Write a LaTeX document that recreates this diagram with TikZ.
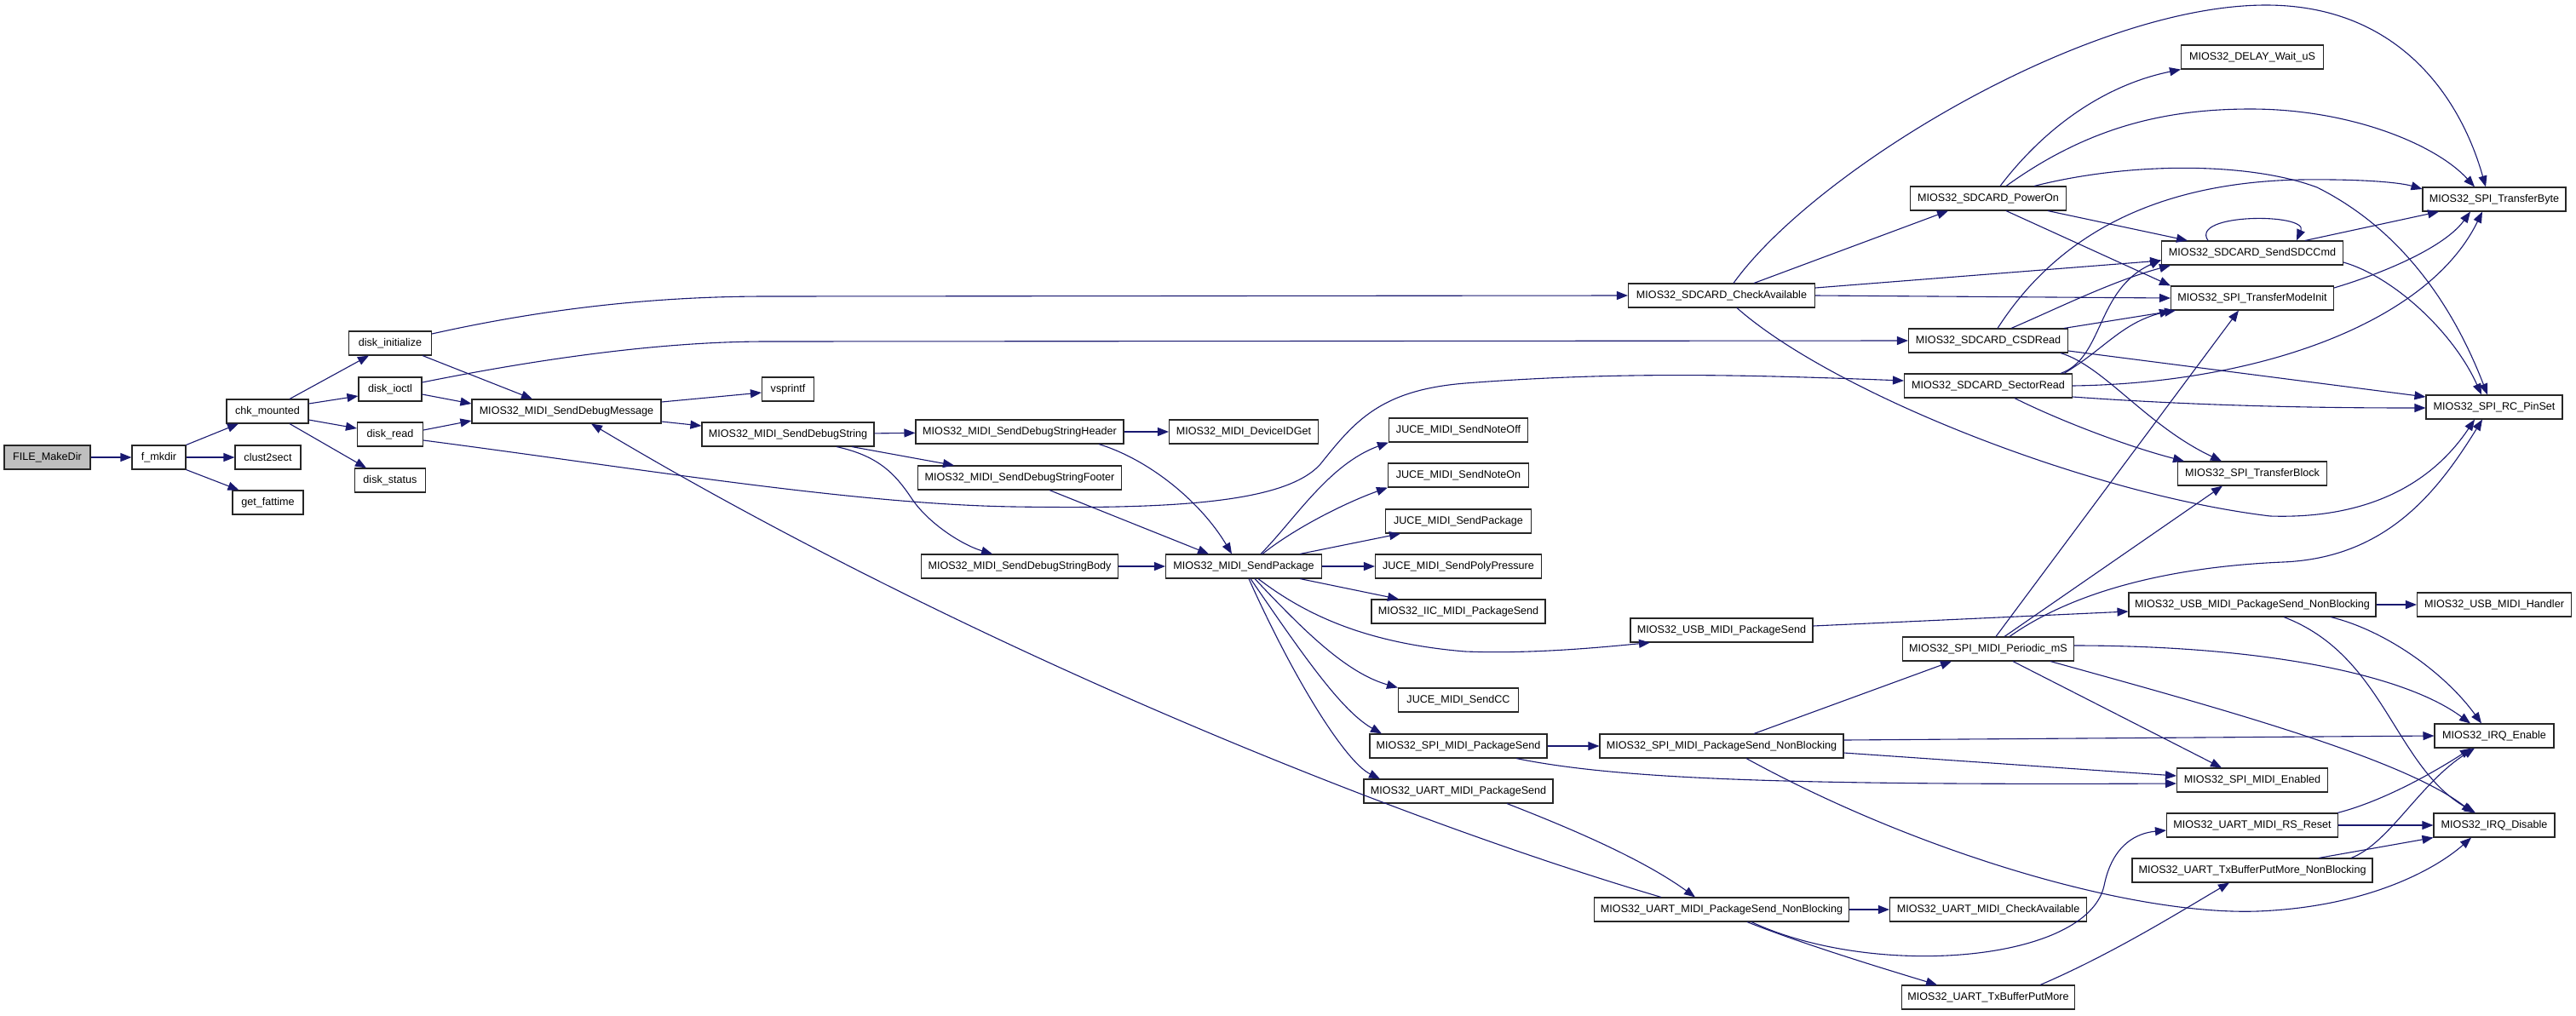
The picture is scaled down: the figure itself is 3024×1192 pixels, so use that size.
\documentclass[tikz,border=0pt]{standalone}
\usepackage{fontspec}
\setmainfont{Liberation Sans}
\usetikzlibrary{arrows.meta}
\definecolor{edgec}{RGB}{25,25,112}
\tikzset{
  box/.style={draw=black!85, line width=1.1pt, minimum height=28pt, inner sep=0pt, font=\fontsize{12.6}{15}\selectfont},
  call/.style={draw=edgec, line width=1.1pt, -{Triangle[length=13pt,width=10pt]}},
}
\begin{document}
\begin{tikzpicture}[x=1pt,y=-1pt]
\useasboundingbox (0,0) rectangle (3024,1192);
% nodes
\node[box,minimum width=101pt,fill=gray!50] (fmd) at (55.5,537) {FILE\_MakeDir};
\node[box,minimum width=63pt] (fmk) at (186.5,537) {f\_mkdir};
\node[box,minimum width=96pt] (chk) at (314,483) {chk\_mounted};
\node[box,minimum width=77pt] (cls) at (314.5,537) {clust2sect};
\node[box,minimum width=83pt] (gft) at (314.5,590) {get\_fattime};
\node[box,minimum width=97pt] (dini) at (458,403) {disk\_initialize};
\node[box,minimum width=74pt] (dioc) at (458,457) {disk\_ioctl};
\node[box,minimum width=77pt] (drd) at (458,510) {disk\_read};
\node[box,minimum width=83pt] (dst) at (458,564) {disk\_status};
\node[box,minimum width=222pt] (sdm) at (665,483) {MIOS32\_MIDI\_SendDebugMessage};
\node[box,minimum width=61pt] (vsp) at (925,457) {vsprintf};
\node[box,minimum width=202pt] (sds) at (925,510) {MIOS32\_MIDI\_SendDebugString};
\node[box,minimum width=244pt] (sdh) at (1197,507) {MIOS32\_MIDI\_SendDebugStringHeader};
\node[box,minimum width=239pt] (sdf) at (1197,561) {MIOS32\_MIDI\_SendDebugStringFooter};
\node[box,minimum width=231pt] (sdb) at (1197,665) {MIOS32\_MIDI\_SendDebugStringBody};
\node[box,minimum width=175pt] (dev) at (1460,507) {MIOS32\_MIDI\_DeviceIDGet};
\node[box,minimum width=183pt] (spk) at (1460,665) {MIOS32\_MIDI\_SendPackage};
\node[box,minimum width=163pt] (noff) at (1712,505) {JUCE\_MIDI\_SendNoteOff};
\node[box,minimum width=165pt] (non) at (1712,558) {JUCE\_MIDI\_SendNoteOn};
\node[box,minimum width=171pt] (jpk) at (1712,612) {JUCE\_MIDI\_SendPackage};
\node[box,minimum width=195pt] (jpp) at (1712,665) {JUCE\_MIDI\_SendPolyPressure};
\node[box,minimum width=204pt] (iic) at (1712,718) {MIOS32\_IIC\_MIDI\_PackageSend};
\node[box,minimum width=141pt] (jcc) at (1712,822) {JUCE\_MIDI\_SendCC};
\node[box,minimum width=208pt] (spips) at (1712,876) {MIOS32\_SPI\_MIDI\_PackageSend};
\node[box,minimum width=222pt] (uartps) at (1712,929) {MIOS32\_UART\_MIDI\_PackageSend};
\node[box,minimum width=214pt] (usbps) at (2021,740) {MIOS32\_USB\_MIDI\_PackageSend};
\node[box,minimum width=286pt] (spinb) at (2021,876) {MIOS32\_SPI\_MIDI\_PackageSend\_NonBlocking};
\node[box,minimum width=299pt] (uartnb) at (2021,1068) {MIOS32\_UART\_MIDI\_PackageSend\_NonBlocking};
\node[box,minimum width=219pt] (sdca) at (2021,347) {MIOS32\_SDCARD\_CheckAvailable};
\node[box,minimum width=183pt] (pwr) at (2334,233) {MIOS32\_SDCARD\_PowerOn};
\node[box,minimum width=187pt] (csd) at (2334,400) {MIOS32\_SDCARD\_CSDRead};
\node[box,minimum width=197pt] (sec) at (2334,453) {MIOS32\_SDCARD\_SectorRead};
\node[box,minimum width=201pt] (per) at (2334,762) {MIOS32\_SPI\_MIDI\_Periodic\_mS};
\node[box,minimum width=231pt] (uca) at (2334,1068) {MIOS32\_UART\_MIDI\_CheckAvailable};
\node[box,minimum width=203pt] (utx) at (2334,1171) {MIOS32\_UART\_TxBufferPutMore};
\node[box,minimum width=167pt] (dly) at (2644,67) {MIOS32\_DELAY\_Wait\_uS};
\node[box,minimum width=213pt] (sdc) at (2644,297) {MIOS32\_SDCARD\_SendSDCCmd};
\node[box,minimum width=191pt] (tmi) at (2644,350) {MIOS32\_SPI\_TransferModeInit};
\node[box,minimum width=175pt] (tbl) at (2644,556) {MIOS32\_SPI\_TransferBlock};
\node[box,minimum width=290pt] (usbnb) at (2644,710) {MIOS32\_USB\_MIDI\_PackageSend\_NonBlocking};
\node[box,minimum width=177pt] (spien) at (2644,916) {MIOS32\_SPI\_MIDI\_Enabled};
\node[box,minimum width=201pt] (rsr) at (2644,969) {MIOS32\_UART\_MIDI\_RS\_Reset};
\node[box,minimum width=282pt] (utxnb) at (2644,1022) {MIOS32\_UART\_TxBufferPutMore\_NonBlocking};
\node[box,minimum width=168pt] (tby) at (2928,234) {MIOS32\_SPI\_TransferByte};
\node[box,minimum width=160pt] (pin) at (2928,478) {MIOS32\_SPI\_RC\_PinSet};
\node[box,minimum width=181pt] (usbh) at (2928,710) {MIOS32\_USB\_MIDI\_Handler};
\node[box,minimum width=140pt] (irqe) at (2928,864) {MIOS32\_IRQ\_Enable};
\node[box,minimum width=142pt] (irqd) at (2928,969) {MIOS32\_IRQ\_Disable};
% edges
\draw[call] (fmd) -- (fmk);
\draw[call] (fmk.north east) -- ([xshift=-34pt]chk.south);
\draw[call] (fmk) -- (cls);
\draw[call] (fmk.south east) -- ([xshift=-34pt]gft.north);
\draw[call] ([xshift=26pt]chk.north) -- ([xshift=-25pt]dini.south);
\draw[call] ([yshift=9pt]chk.east) -- ([yshift=-8pt]dioc.west);
\draw[call] ([yshift=-10pt]chk.east) -- ([yshift=7pt]drd.west);
\draw[call] ([xshift=26pt]chk.south) -- ([xshift=-28pt]dst.north);
\draw[call] ([yshift=11pt]dini.east) .. controls (650,360) and (780,348) .. (900,348) -- (sdca.west);
\draw[call] ([xshift=38pt]dini.south) -- ([xshift=-40pt]sdm.north);
\draw[call] ([yshift=8pt]dioc.east) .. controls (640,420) and (780,401) .. (900,401) -- (csd.west);
\draw[call] ([yshift=-6pt]dioc.east) -- ([yshift=9pt]sdm.west);
\draw[call] ([yshift=5pt]drd.east) -- ([yshift=-11pt]sdm.west);
\draw[call] ([yshift=-7pt]drd.east) .. controls (750,550) and (1000,592) .. (1190,595) .. controls (1380,598) and (1510,590) .. (1550,545) .. controls (1590,495) and (1620,458) .. (1720,450) .. controls (1900,436) and (2050,440) .. ([yshift=6pt]sec.west);
\draw[call] ([yshift=11pt]sdm.east) -- ([yshift=-4pt]vsp.west);
\draw[call] ([yshift=-12pt]sdm.east) -- ([yshift=10pt]sds.west);
\draw[call] (sds) -- (sdh);
\draw[call] ([xshift=75pt]sds.south) -- ([xshift=-77pt]sdf.north);
\draw[call] ([xshift=57pt]sds.south) .. controls (1030,535) and (1050,555) .. (1070,585) .. controls (1090,615) and (1130,640) .. ([xshift=-32pt]sdb.north);
\draw[call] (sdh) -- (dev);
\draw[call] ([xshift=93pt]sdh.south) .. controls (1350,540) and (1410,590) .. ([xshift=-14pt]spk.north);
\draw[call] ([xshift=35pt]sdf.south) -- ([xshift=-41pt]spk.north);
\draw[call] (sdb) -- (spk);
\draw[call] ([xshift=20pt]spk.north) .. controls (1520,610) and (1560,545) .. (noff.south west);
\draw[call] ([xshift=22pt]spk.north) .. controls (1520,620) and (1580,590) .. (non.south west);
\draw[call] ([xshift=66pt]spk.north) -- ([xshift=-68pt]jpk.south);
\draw[call] (spk) -- (jpp);
\draw[call] ([xshift=66pt]spk.south) -- ([xshift=-70pt]iic.north);
\draw[call] ([xshift=17pt]spk.south) .. controls (1530,720) and (1600,755) .. (1720,765) .. controls (1800,768) and (1880,760) .. ([xshift=-84pt]usbps.south);
\draw[call] ([xshift=13pt]spk.south) .. controls (1530,740) and (1580,790) .. (jcc.north west);
\draw[call] ([xshift=8pt]spk.south) .. controls (1530,770) and (1575,835) .. ([xshift=-90pt]spips.north);
\draw[call] ([xshift=6pt]spk.south) .. controls (1520,800) and (1580,895) .. ([xshift=-92pt]uartps.north);
\draw[call] ([yshift=5pt]usbps.east) -- ([yshift=-8pt]usbnb.west);
\draw[call] (spips) -- (spinb);
\draw[call] ([xshift=68pt]spips.south) .. controls (1900,915) and (2100,922) .. ([yshift=-4pt]spien.west);
\draw[call] ([xshift=57pt]uartps.south) .. controls (1850,975) and (1930,1010) .. ([xshift=-31pt]uartnb.north);
\draw[call] ([xshift=-71pt]uartnb.north) .. controls (1600,950) and (1100,740) .. ([xshift=29pt]sdm.south);
\draw[call] (uartnb) -- (uca);
\draw[call] ([xshift=35pt]uartnb.south) .. controls (2200,1150) and (2450,1130) .. (2470,1040) .. controls (2480,990) and (2510,978) .. ([yshift=-6pt]rsr.west);
\draw[call] ([xshift=30pt]uartnb.south) .. controls (2120,1110) and (2220,1140) .. ([xshift=-60pt]utx.north);
\draw[call] ([xshift=61pt]utx.north) .. controls (2480,1120) and (2560,1070) .. ([xshift=-27pt]utxnb.south);
\draw[call] ([xshift=14pt]sdca.north) .. controls (2130,200) and (2450,6) .. (2660,6) .. controls (2820,6) and (2890,120) .. ([xshift=-10pt]tby.north);
\draw[call] ([xshift=38pt]sdca.north) -- ([xshift=-47pt]pwr.south);
\draw[call] ([yshift=9pt]sdca.east) -- ([yshift=-9pt]sdc.west);
\draw[call] (sdca.east) -- (tmi.west);
\draw[call] ([xshift=18pt]sdca.south) .. controls (2150,460) and (2450,580) .. (2665,606) .. controls (2790,610) and (2860,560) .. ([xshift=-23pt]pin.south);
\draw[call] ([xshift=14pt]pwr.north) .. controls (2400,150) and (2470,100) .. (dly.south west);
\draw[call] ([xshift=21pt]pwr.north) .. controls (2450,150) and (2540,128) .. (2642,128) .. controls (2760,128) and (2860,170) .. ([xshift=-23pt]tby.north);
\draw[call] ([xshift=70pt]pwr.south) -- ([xshift=-76pt]sdc.north);
\draw[call] ([xshift=21pt]pwr.south) -- (tmi.north west);
\draw[call] ([xshift=54pt]pwr.north) .. controls (2500,190) and (2640,190) .. (2720,220) .. controls (2820,270) and (2880,360) .. ([xshift=-8pt]pin.north);
\draw[call] ([xshift=-52pt]sdc.north) .. controls (2570,250) and (2710,250) .. ([xshift=52pt]sdc.north);
\draw[call] ([xshift=62pt]sdc.north) -- ([xshift=-65pt]tby.south);
\draw[call] ([yshift=-11pt]sdc.east) .. controls (2810,325) and (2880,390) .. ([xshift=-15pt]pin.north);
\draw[call] ([yshift=12pt]tmi.east) .. controls (2800,320) and (2870,290) .. ([xshift=-28pt]tby.south);
\draw[call] ([xshift=27pt]csd.north) .. controls (2420,360) and (2480,330) .. ([xshift=-96pt]sdc.south);
\draw[call] ([xshift=89pt]csd.north) -- ([xshift=-90pt]tmi.south);
\draw[call] ([xshift=11pt]csd.north) .. controls (2400,300) and (2500,215) .. (2700,211) .. controls (2780,210) and (2820,215) .. ([yshift=12pt]tby.west);
\draw[call] ([yshift=-12pt]csd.east) -- ([yshift=12pt]pin.west);
\draw[call] ([xshift=85pt]csd.south) .. controls (2470,430) and (2520,500) .. ([xshift=-36pt]tbl.north);
\draw[call] ([xshift=85pt]sec.north) .. controls (2470,420) and (2460,340) .. ([yshift=-8pt]sdc.west);
\draw[call] ([xshift=89pt]sec.north) .. controls (2470,410) and (2490,380) .. (tmi.south west);
\draw[call] (sec.east) .. controls (2650,450) and (2850,380) .. ([xshift=-14pt]tby.south);
\draw[call] ([yshift=-13pt]sec.east) .. controls (2600,478) and (2750,479) .. ([yshift=-1pt]pin.west);
\draw[call] ([xshift=31pt]sec.south) .. controls (2420,495) and (2500,525) .. ([xshift=-80pt]tbl.north);
\draw[call] ([xshift=9pt]per.north) -- ([xshift=-16pt]tmi.south);
\draw[call] ([xshift=19pt]per.north) -- ([xshift=-35pt]tbl.south);
\draw[call] ([xshift=25pt]per.north) .. controls (2440,690) and (2560,665) .. (2680,660) .. controls (2800,655) and (2860,580) .. ([xshift=-14pt]pin.south);
\draw[call] ([yshift=4pt]per.east) .. controls (2650,758) and (2820,790) .. ([xshift=-28pt]irqe.north);
\draw[call] ([xshift=29pt]per.south) -- ([xshift=-36pt]spien.north);
\draw[call] ([xshift=73pt]per.south) .. controls (2600,830) and (2820,890) .. ([xshift=-25pt]irqd.north);
\draw[call] (usbnb) -- (usbh);
\draw[call] ([xshift=92pt]usbnb.south) .. controls (2800,740) and (2870,790) .. ([xshift=-15pt]irqe.north);
\draw[call] ([xshift=37pt]usbnb.south) .. controls (2800,770) and (2810,900) .. ([xshift=-22pt]irqd.north);
\draw[call] ([xshift=38pt]spinb.north) -- ([xshift=-43pt]per.south);
\draw[call] ([yshift=7pt]spinb.east) -- (irqe.west);
\draw[call] ([yshift=-8pt]spinb.east) -- ([yshift=5pt]spien.west);
\draw[call] ([xshift=29pt]spinb.south) .. controls (2250,1000) and (2500,1075) .. (2650,1070) .. controls (2780,1065) and (2860,1020) .. ([xshift=-27pt]irqd.south);
\draw[call] ([xshift=100pt]rsr.north) .. controls (2800,940) and (2860,905) .. ([xshift=-27pt]irqe.south);
\draw[call] (rsr) -- (irqd);
\draw[call] ([xshift=116pt]utxnb.north) .. controls (2805,990) and (2840,920) .. ([xshift=-23pt]irqe.south);
\draw[call] ([xshift=78pt]utxnb.north) -- (irqd.south west);
\end{tikzpicture}
\end{document}
